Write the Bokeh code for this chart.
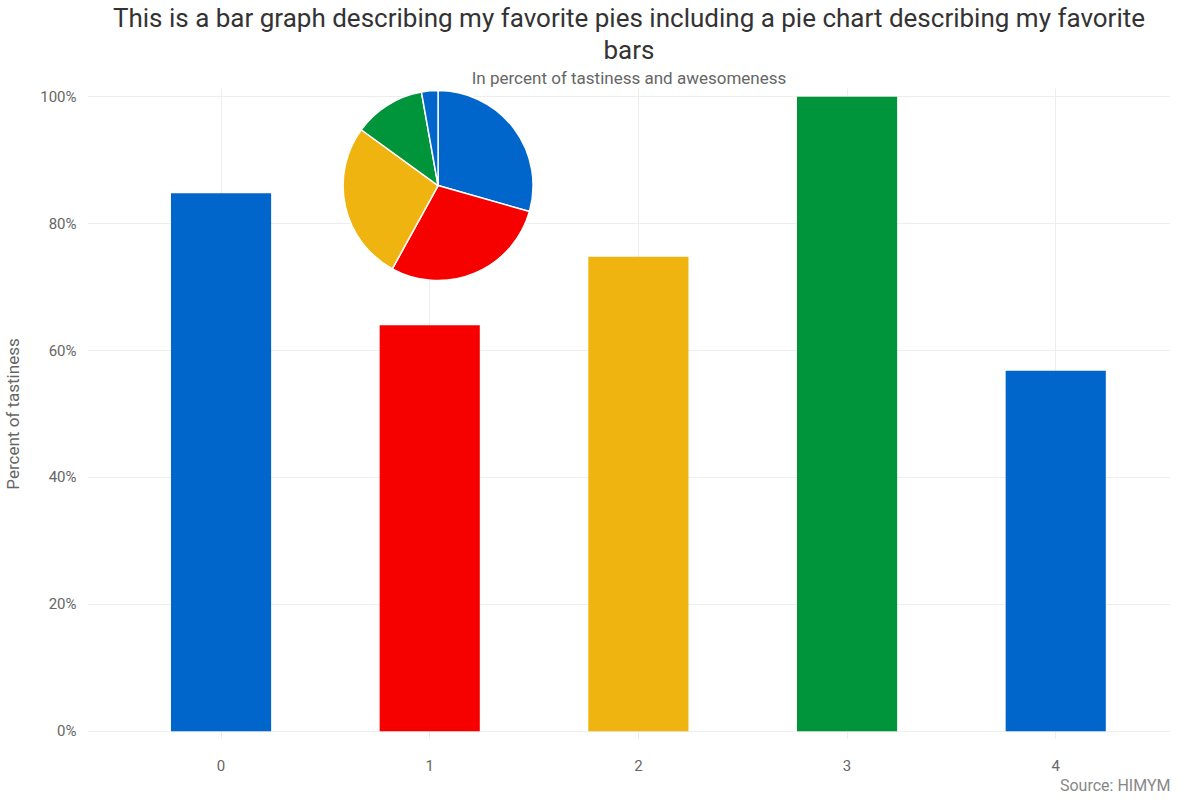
from bokeh.plotting import figure
from bokeh.models import Title, FixedTicker, NumeralTickFormatter, ColumnDataSource, Range1d
from bokeh.embed import file_html
from bokeh.resources import INLINE
import numpy as np

# bar data
positions = [0, 1, 2, 3, 4]
tastiness = [84.8, 64.0, 74.8, 100.0, 56.8]
bar_colors = ["#0066cc", "#f70000", "#f0b411", "#00953a", "#0066cc"]

# pie data (clockwise from 12 o'clock)
pie_shares = [29.4, 28.6, 27.0, 12.2, 2.8]
pie_colors = ["#0066cc", "#f70000", "#f0b411", "#00953a", "#0066cc"]
pie_center = (1.04, 86.0)

FONT = "Roboto"

p = figure(width=1170, height=794, output_backend="svg", toolbar_location=None,
           x_range=Range1d(-0.64, 4.55), y_range=Range1d(-1.3, 101.3),
           title="This is a bar graph describing my favorite pies including a pie chart describing my favorite")
p.title.align = "center"
p.title.text_font = FONT
p.title.text_font_size = "26px"
p.title.text_font_style = "normal"
p.title.text_color = "#333333"
p.title.standoff = 0
p.add_layout(Title(text="In percent of tastiness and awesomeness", align="center", text_font=FONT,
                   text_font_size="17px", text_font_style="normal", text_color="#666666",
                   standoff=2), "above")
p.add_layout(Title(text="bars", align="center", text_font=FONT, text_font_size="26px",
                   text_font_style="normal", text_color="#333333", standoff=0), "above")
p.add_layout(Title(text="Source: HIMYM", align="right", text_font=FONT, text_font_size="16px",
                   text_font_style="normal", text_color="#888888", standoff=0), "below")

src = ColumnDataSource(dict(x=positions, top=tastiness, color=bar_colors))
p.vbar(x="x", top="top", bottom=0, width=0.48, fill_color="color", line_color=None, source=src)

cum = np.concatenate([[0], np.cumsum(pie_shares)]) / 100.0
starts = [90 - 360 * cum[i + 1] for i in range(len(pie_shares))]
ends = [90 - 360 * cum[i] for i in range(len(pie_shares))]
p.wedge(x=pie_center[0], y=pie_center[1], radius=95, radius_units="screen",
        start_angle=starts, end_angle=ends, start_angle_units="deg", end_angle_units="deg",
        fill_color=pie_colors, line_color="white", line_width=1.5)

p.xaxis.ticker = FixedTicker(ticks=positions)
p.yaxis.ticker = FixedTicker(ticks=[0, 20, 40, 60, 80, 100])
p.yaxis.formatter = NumeralTickFormatter(format="0")
p.yaxis.major_label_overrides = {v: f"{v}%" for v in [0, 20, 40, 60, 80, 100]}
p.yaxis.axis_label = "Percent of tastiness"
p.yaxis.axis_label_text_font = FONT
p.yaxis.axis_label_text_font_style = "normal"
p.yaxis.axis_label_text_font_size = "17px"
p.yaxis.axis_label_text_color = "#666666"
p.yaxis.axis_label_standoff = 14
for ax in (p.xaxis, p.yaxis):
    ax.axis_line_color = None
    ax.major_tick_line_color = None
    ax.minor_tick_line_color = None
    ax.major_label_text_font = FONT
    ax.major_label_text_font_size = "15px"
    ax.major_label_text_color = "#666666"
p.xaxis.major_label_standoff = 14
p.xgrid.ticker = FixedTicker(ticks=positions)
p.grid.grid_line_color = "#eeeeee"
p.outline_line_color = None
p.min_border_left = 36
p.min_border_right = 0
p.min_border_top = 4

open("out.html", "w").write(file_html(p, INLINE))
